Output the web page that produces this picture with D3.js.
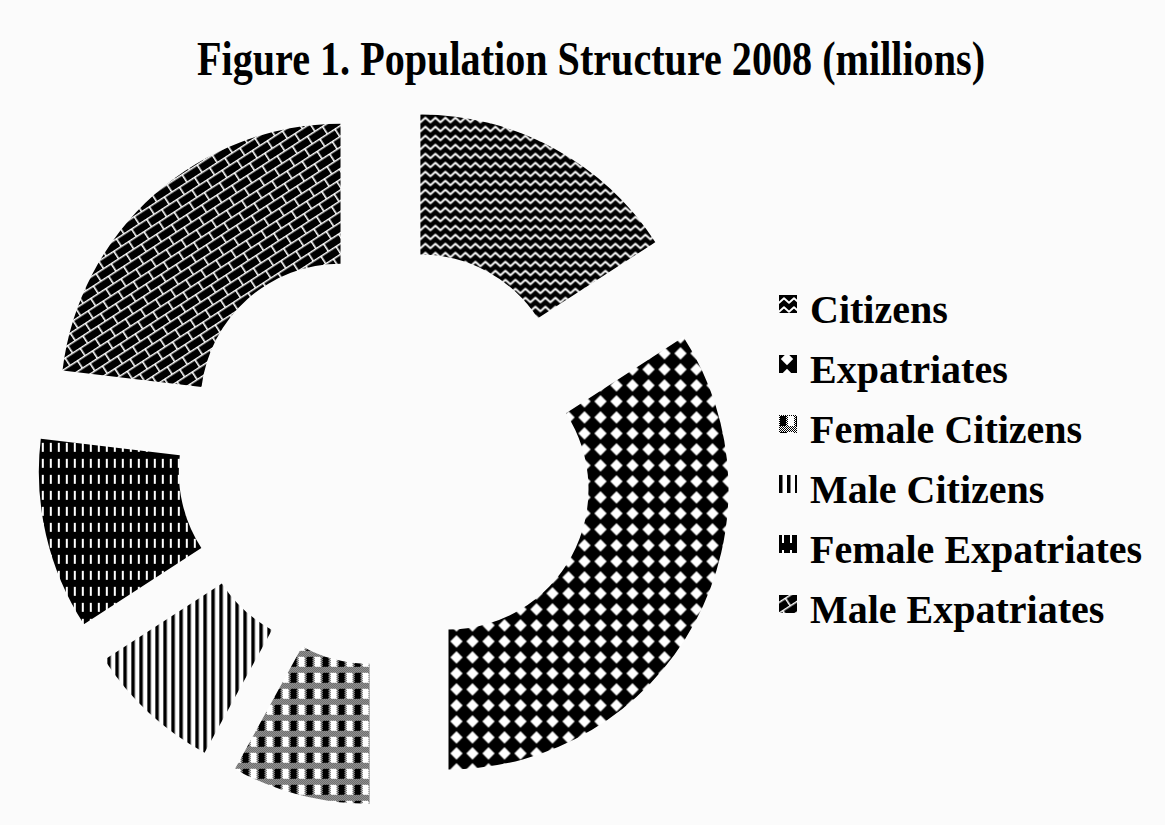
<!DOCTYPE html>
<html>
<head>
<meta charset="utf-8">
<script src="https://cdn.jsdelivr.net/npm/d3@7"></script>
<style>
  body { margin: 0; background: #fbfbfb; }
  svg { display: block; }
</style>
</head>
<body>
<svg id="chart"></svg>
<script>
'use strict'
// population 2008, millions
const categories = ['Citizens', 'Expatriates', 'Female Citizens', 'Male Citizens', 'Female Expatriates', 'Male Expatriates']
const values = [1.09, 2.35, 0.55, 0.54, 0.76, 1.59]
const patternIds = ['wave', 'diamond', 'plaid', 'vstripe', 'dash', 'brick']
const title = 'Figure 1. Population Structure 2008 (millions)'

const W = 1165, H = 825
const cfg = {
  cx: 387, cy: 456,
  rIn: 140, rOut: 280,
  explode: 70,
  font: '"Liberation Serif", "Times New Roman", serif'
}

const svg = d3.select('#chart').attr('width', W).attr('height', H)
svg.append('rect').attr('width', W).attr('height', H).attr('fill', '#fbfbfb')

// fill patterns, black/white like the print version
const defs = svg.append('defs')
function pattern(id, w, h, rot){
  let p = defs.append('pattern').attr('id', id)
    .attr('patternUnits', 'userSpaceOnUse').attr('width', w).attr('height', h)
  if(rot) p.attr('patternTransform', `rotate(${rot})`)
  return p
}

let p = pattern('wave', 10, 9)
p.append('rect').attr('width', 10).attr('height', 9).attr('fill', '#000')
p.append('path').attr('d', 'M-2.5,4.5 L0,6.8 L5,2.2 L10,6.8 L12.5,4.5')
  .attr('fill', 'none').attr('stroke', '#fff').attr('stroke-width', 1.9).attr('stroke-linejoin', 'round')

p = pattern('diamond', 16, 16)
p.append('rect').attr('width', 16).attr('height', 16).attr('fill', '#000')
p.append('path').attr('d', 'M8,1.8 L14.2,8 L8,14.2 L1.8,8Z').attr('fill', '#fff')

// plaid: fine checker everywhere, then a black and a white block per tile
p = pattern('plaid', 16, 16)
p.append('rect').attr('width', 16).attr('height', 16).attr('fill', '#fff')
for(let x = 0; x < 16; x++){
  for(let y = 0; y < 16; y++){
    if((x + y) % 2 === 0) p.append('rect').attr('x', x).attr('y', y).attr('width', 1).attr('height', 1).attr('fill', '#000')
  }
}
p.append('rect').attr('x', 1).attr('y', 5).attr('width', 6).attr('height', 10).attr('fill', '#000')
p.append('rect').attr('x', 9).attr('y', 5).attr('width', 6).attr('height', 10).attr('fill', '#fff')

p = pattern('vstripe', 8, 8)
p.append('rect').attr('width', 8).attr('height', 8).attr('fill', '#fff')
p.append('rect').attr('width', 3.5).attr('height', 8).attr('fill', '#000')

p = pattern('dash', 8, 16)
p.append('rect').attr('width', 8).attr('height', 16).attr('fill', '#000')
p.append('rect').attr('x', 3).attr('y', 3).attr('width', 2).attr('height', 9).attr('fill', '#fff')

p = pattern('brick', 18, 18, -33)
p.append('rect').attr('width', 18).attr('height', 18).attr('fill', '#000')
p.append('path').attr('d', 'M0,0.8 H18 M0,9.8 H18 M0.8,0 V9.8 M9.8,9.8 V18')
  .attr('stroke', '#fff').attr('stroke-width', 1.6).attr('fill', 'none')

// title (condensed like the original)
svg.append('text')
  .attr('x', 197).attr('y', 75)
  .attr('textLength', 788).attr('lengthAdjust', 'spacingAndGlyphs')
  .attr('font-family', cfg.font).attr('font-weight', 'bold').attr('font-size', 48)
  .attr('fill', '#000')
  .text(title)

// exploded doughnut
const pie = d3.pie().sort(null).value(d => d)
const arc = d3.arc().innerRadius(cfg.rIn).outerRadius(cfg.rOut)
const arcs = pie(values)

const ring = svg.append('g').attr('transform', `translate(${cfg.cx},${cfg.cy})`)
ring.selectAll('.slice').data(arcs).enter().append('g')
  .attr('class', 'slice')
  .attr('transform', d => {
    let mid = (d.startAngle + d.endAngle) / 2
    return `translate(${cfg.explode * Math.sin(mid)},${-cfg.explode * Math.cos(mid)})`
  })
  .append('path')
  .attr('d', arc)
  .attr('fill', (d, i) => `url(#${patternIds[i]})`)

// legend
const legend = svg.append('g').attr('transform', 'translate(779,323)')
const item = legend.selectAll('.item').data(categories).enter().append('g')
  .attr('class', 'item')
  .attr('transform', (d, i) => `translate(0,${i * 60})`)
item.append('rect')
  .attr('x', 0).attr('y', -28).attr('width', 18).attr('height', 18)
  .attr('fill', (d, i) => `url(#${patternIds[i]})`)
item.append('text')
  .attr('x', 31).attr('y', 0)
  .attr('font-family', cfg.font).attr('font-weight', 'bold').attr('font-size', 40)
  .attr('fill', '#000')
  .text(d => d)
</script>
</body>
</html>
